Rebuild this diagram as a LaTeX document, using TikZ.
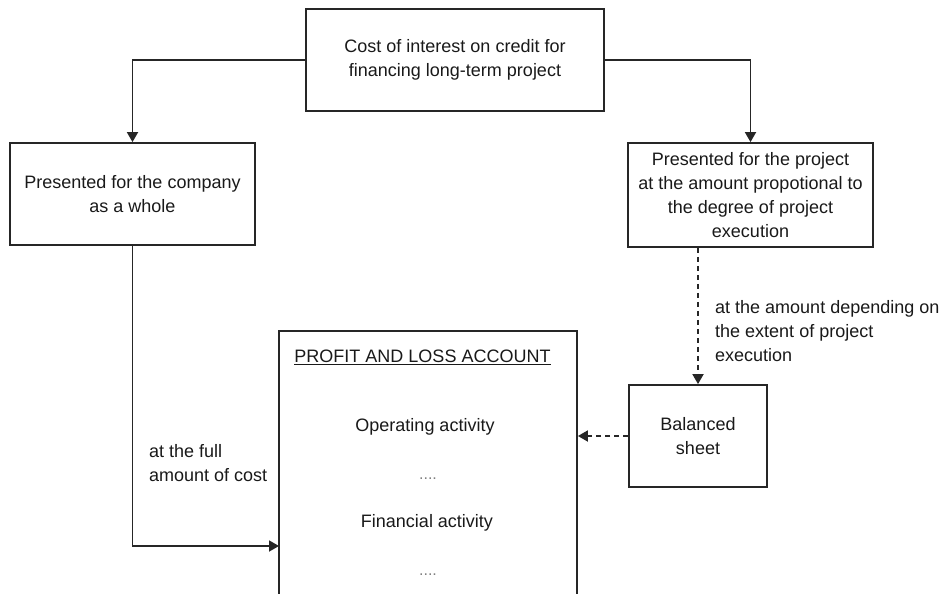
\documentclass[tikz,border=0pt]{standalone}
\usepackage{fontspec}
\setmainfont{Liberation Sans}
\usetikzlibrary{arrows.meta,calc}
\begin{document}
\begin{tikzpicture}[x=1pt,y=-1pt,
  every node/.style={font=\fontsize{18}{24}\selectfont, text=black!90, inner sep=0pt},
  box/.style={draw=black!85, line width=1.8pt, rectangle, align=center},
  conn/.style={draw=black!85, line width=1.8pt, -{Triangle[width=11pt,length=10pt]}},
  dconn/.style={conn, dash pattern=on 5pt off 4pt},
  dots/.style={font=\fontsize{16}{18}\selectfont, text=black!50}
]
\useasboundingbox (0,0) rectangle (945,594);
\begin{scope}
\clip (0,0) rectangle (945,594);
\node[box, minimum width=298pt, minimum height=102pt] (top) at (455,60)
  {Cost of interest on credit for\\financing long-term project};
\node[box, minimum width=245pt, minimum height=102pt] (left) at (132.5,194)
  {Presented for the company\\as a whole};
\node[box, minimum width=245pt, minimum height=104pt] (right) at (750.5,195)
  {Presented for the project\\at the amount propotional to\\the degree of project\\execution};
\node[box, minimum width=138pt, minimum height=102pt] (bal) at (698,436)
  {Balanced\\sheet};
\node[box, minimum width=298pt, minimum height=300pt] (pl) at (428,481) {};
\node (title) at (422.5,357) {\underline{PROFIT AND LOSS ACCOUNT}};
\node (op) at (425,427) {Operating activity};
\node[dots] (d1) at (428,479) {....};
\node (fin) at (427,523) {Financial activity};
\node[dots] (d2) at (428,575) {....};
\node[align=left, anchor=west] (lfull) at (149,463) {at the full\\amount of cost};
\node[align=left, anchor=west] (ldep) at (715,331) {at the amount depending on\\the extent of project\\execution};
\coordinate (plin) at (279,546);
\draw[conn] (top.west) -| (left.north);
\draw[conn] (top.east) -| (right.north);
\draw[conn] (left.south) |- (plin);
\draw[dconn] (right.south -| bal.north) -- (bal.north);
\draw[dconn] (bal.west) -- (pl.east |- bal.west);
\end{scope}
\end{tikzpicture}
\end{document}
